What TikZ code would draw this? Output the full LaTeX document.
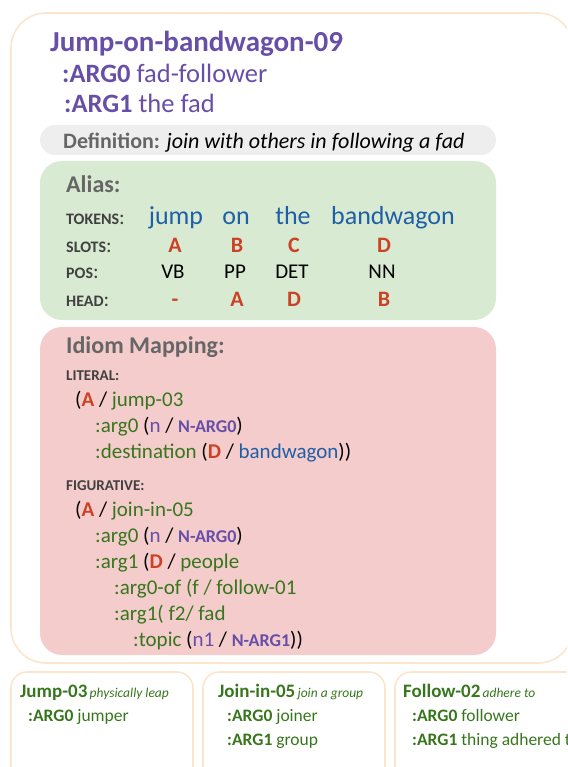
\documentclass[tikz,border=0pt]{standalone}
\usepackage{fontspec}
\setmainfont{Carlito}
\definecolor{purp}{HTML}{674EA7}
\definecolor{grn}{HTML}{38761D}
\definecolor{rd}{HTML}{CC4125}
\definecolor{blu}{HTML}{1F5FA5}
\definecolor{hdgrey}{HTML}{666666}
\definecolor{lblgrey}{HTML}{404040}
\definecolor{bord}{HTML}{FCE5CD}
\definecolor{defbg}{HTML}{EEEEEE}
\definecolor{greenbg}{HTML}{D9EAD3}
\definecolor{pinkbg}{HTML}{F4CCCC}
\newcommand\fsz[1]{\fontsize{#1}{#1}\selectfont}
\newcommand\lbl[1]{{\fsz{16}\bfseries\color{lblgrey}#1}{\fsz{21}\color{lblgrey}:}}
\newcommand\sm[1]{{\fsz{15}\bfseries\color{lblgrey}#1}}
\newcommand\slotA[1]{{\bfseries\color{rd}#1}}
\newcommand\nar[1]{{\fsz{18}\bfseries\color{purp}#1}}
\tikzset{
  txt/.style={inner sep=0pt, anchor=base west},
  ctr/.style={inner sep=0pt, anchor=base},
  panel/.style={draw=bord, line width=1.6pt},
}
\begin{document}
\begin{tikzpicture}[x=1pt,y=-1pt]
\useasboundingbox (0,0) rectangle (567,767);
\clip (0,0) rectangle (567,767);
% outer box
\draw[panel, rounded corners=35] (11,13) rectangle (573,663);
% definition box
\fill[defbg, rounded corners=15] (40,125) rectangle (496,155);
\fill[greenbg, rounded corners=22] (40,161) rectangle (496,320);
\fill[pinkbg, rounded corners=22] (40,327) rectangle (496,655);
% bottom boxes
\draw[panel, rounded corners=16] (11,672) rectangle (193,800);
\draw[panel, rounded corners=16] (203,672) rectangle (385,800);
\draw[panel, rounded corners=16] (395,672) rectangle (600,800);

% title
\node[txt] (title) at (50,52) {\fsz{29}\bfseries\color{purp}Jump-on-bandwagon-09};
\node[txt] (a0) at (62,83) {\fsz{26.5}\color{purp}\textbf{:ARG0} fad-follower};
\node[txt] (a1) at (64,113) {\fsz{26.5}\color{purp}\textbf{:ARG1} the fad};
\node[txt] (def) at (63,149) {\fsz{22}{\bfseries\color{hdgrey}Definition:} \itshape join with others in following a fad};

% alias
\node[txt] (alias) at (66,193) {\fsz{24}\bfseries\color{hdgrey}Alias:};
\node[txt] (ltok) at (66,224) {\lbl{TOKENS}};
\node[txt] (lslot) at (66,252) {\lbl{SLOTS}};
\node[txt] (lpos) at (66,278) {\lbl{POS}};
\node[txt] (lhead) at (66,306) {\lbl{HEAD}};
\begin{scope}[every node/.append style={ctr}]
\node (t1) at (176,224) {\fsz{26}\color{blu}jump};
\node (t2) at (236,224) {\fsz{26}\color{blu}on};
\node (t3) at (293,224) {\fsz{26}\color{blu}the};
\node (t4) at (393,224) {\fsz{26}\color{blu}bandwagon};
\node (s1) at (175,252) {\fsz{22}\slotA{A}};
\node (s2) at (237,252) {\fsz{22}\slotA{B}};
\node (s3) at (294,252) {\fsz{22}\slotA{C}};
\node (s4) at (384,252) {\fsz{22}\slotA{D}};
\node (p1) at (173,278) {\fsz{21}VB};
\node (p2) at (235,278) {\fsz{21}PP};
\node (p3) at (292,278) {\fsz{21}DET};
\node (p4) at (382,278) {\fsz{21}NN};
\node (h1) at (175,306) {\fsz{22}\slotA{-}};
\node (h2) at (237,306) {\fsz{22}\slotA{A}};
\node (h3) at (294,306) {\fsz{22}\slotA{D}};
\node (h4) at (384,306) {\fsz{22}\slotA{B}};
\end{scope}

% idiom mapping
\node[txt] (idm) at (66,353) {\fsz{24}\bfseries\color{hdgrey}Idiom Mapping:};
\node[txt] (lit) at (66,380) {\sm{LITERAL:}};
\begin{scope}[every node/.append style={txt}, every node/.append style={font=\fsz{21}}]
\node (l1) at (75,406) {(\slotA{A} / \textcolor{grn}{jump-03}};
\node (l2) at (95,432) {\textcolor{grn}{:arg0} (\textcolor{purp}{n} / \nar{N-ARG0})};
\node (l3) at (95,458) {\textcolor{grn}{:destination} (\slotA{D} / \textcolor{blu}{bandwagon}))};
\end{scope}
\node[txt] (fig) at (66,490) {\sm{FIGURATIVE:}};
\begin{scope}[every node/.append style={txt}, every node/.append style={font=\fsz{21}}]
\node (f1) at (75,516) {(\slotA{A} / \textcolor{grn}{join-in-05}};
\node (f2) at (95,542) {\textcolor{grn}{:arg0} (\textcolor{purp}{n} / \nar{N-ARG0})};
\node (f3) at (95,568) {\textcolor{grn}{:arg1} (\slotA{D} / \textcolor{grn}{people}};
\node (f4) at (114,594) {\textcolor{grn}{:arg0-of (f / follow-01}};
\node (f5) at (114,620) {\textcolor{grn}{:arg1( f2/ fad}};
\node (f6) at (133,646) {\textcolor{grn}{:topic} (\textcolor{purp}{n1} / \nar{N-ARG1}))};
\end{scope}

% bottom boxes text
\begin{scope}[every node/.append style={txt}]
\node (b1t) at (20,697) {\color{grn}{\fsz{19}\bfseries Jump-03} {\fsz{13.5}\itshape physically leap}};
\node (b1a) at (28,721) {\color{grn}\fsz{17.5}\textbf{:ARG0} jumper};
\node (b2t) at (218,697) {\color{grn}{\fsz{19}\bfseries Join-in-05} {\fsz{13.5}\itshape join a group}};
\node (b2a) at (227,721) {\color{grn}\fsz{17.5}\textbf{:ARG0} joiner};
\node (b2b) at (227,745) {\color{grn}\fsz{17.5}\textbf{:ARG1} group};
\node (b3t) at (403,697) {\color{grn}{\fsz{19}\bfseries Follow-02} {\fsz{13.5}\itshape adhere to}};
\node (b3a) at (412,721) {\color{grn}\fsz{17.5}\textbf{:ARG0} follower};
\node (b3b) at (412,745) {\color{grn}\fsz{17.5}\textbf{:ARG1} thing adhered to};
\end{scope}
\end{tikzpicture}
\end{document}
